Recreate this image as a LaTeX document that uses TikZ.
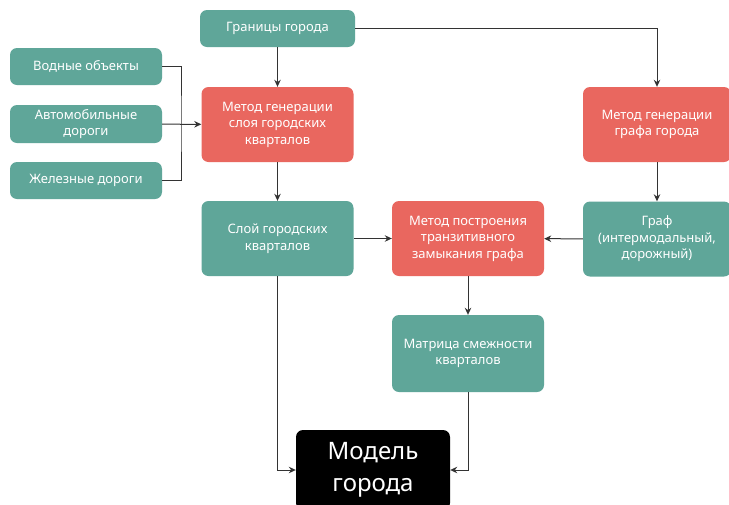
\documentclass[tikz,border=0pt]{standalone}
\usepackage{fontspec}
\setmainfont{Noto Sans}
\usepackage{tikz}
\usetikzlibrary{arrows.meta}
\usetikzlibrary{positioning}
\usetikzlibrary{shapes.geometric}
\definecolor{tealbox}{HTML}{5FA699}
\definecolor{redbox}{HTML}{E9675F}
\definecolor{wire}{HTML}{333333}
\tikzstyle{box} = [rectangle, rounded corners=7pt, text=white, align=center, font=\fontsize{13}{16.5}\selectfont, inner sep=2pt]
\tikzstyle{data} = [box, fill=tealbox, minimum width=152pt, minimum height=37pt]
\tikzstyle{layerdata} = [box, fill=tealbox, minimum width=152pt, minimum height=75pt]
\tikzstyle{method} = [box, fill=redbox, minimum width=152pt, minimum height=75pt]
\tikzstyle{result} = [box, fill=black, minimum width=154pt, minimum height=80pt, font=\fontsize{24}{32}\selectfont]
\tikzstyle{arrow} = [-{Stealth[length=7pt, width=6.5pt]}, draw=wire, line width=1pt]
\tikzstyle{line} = [draw=wire, line width=1pt]

\begin{document}
\begin{tikzpicture}[x=1pt, y=-1pt]

  \path[use as bounding box, clip] (0,0) rectangle (729,504);
  \fill[white] (0,0) rectangle (729,504);

  % inputs
  \node[data, minimum width=155pt] (borders) at (277.5,28.5) {Границы города};
  \node[data] (water) at (86,66.5) {Водные объекты};
  \node[data, minimum height=38pt] (roads) at (86,124) {Автомобильные\\дороги};
  \node[data] (rail) at (86,180.5) {Железные дороги};

  % methods
  \node[method] (layermethod) at (277.5,124.5) {Метод генерации\\слоя городских\\кварталов};
  \node[method, minimum width=148pt] (graphmethod) at (657,124.5) {Метод генерации\\графа города};
  \node[method] (closure) at (468,238.5) {Метод построения\\транзитивного\\замыкания графа};

  % intermediate data
  \node[layerdata] (layer) at (277.5,238.5) {Слой городских\\кварталов};
  \node[layerdata, minimum width=148pt] (graph) at (657,239) {Граф\\(интермодальный,\\дорожный)};
  \node[layerdata, minimum height=77pt] (matrix) at (468,353.5) {Матрица смежности\\кварталов};

  % result
  \node[result] (model) at (373,470) {Модель\\города};

  % connectors
  \coordinate (joint) at (181,124);
  \draw[line] (water) -| (joint) |- (rail);
  \draw[arrow] (roads) -- (layermethod);
  \draw[arrow] (borders) -- (layermethod);
  \draw[arrow] (borders) -| (graphmethod);
  \draw[arrow] (layermethod) -- (layer);
  \draw[arrow] (graphmethod) -- (graph);
  \draw[arrow] (layer) -- (closure);
  \draw[arrow] (graph) -- (closure);
  \draw[arrow] (closure) -- (matrix);
  \draw[arrow] (layer) |- (model);
  \draw[arrow] (matrix) |- (model);

\end{tikzpicture}
\end{document}
